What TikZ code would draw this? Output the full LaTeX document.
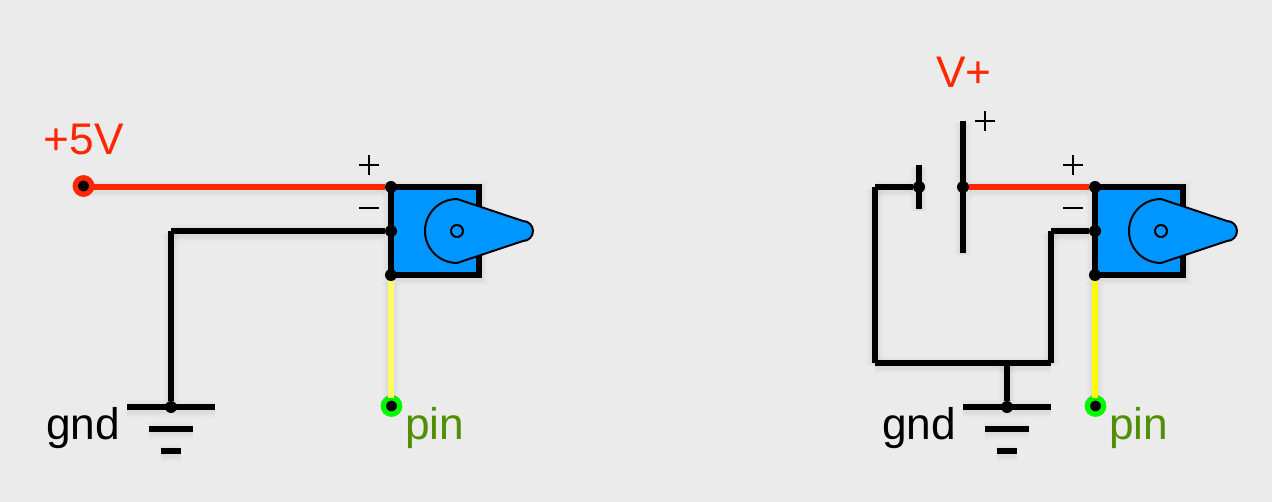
\documentclass[tikz,border=0pt]{standalone}
\usepackage{fontspec}
\setmainfont{Liberation Sans}
\definecolor{bgc}{HTML}{EBEBEB}
\definecolor{wred}{HTML}{FF2600}
\definecolor{wblue}{HTML}{0096FF}
\definecolor{wgreen}{HTML}{00F900}
\definecolor{wyellow}{HTML}{FFFB00}
\definecolor{paleyellow}{HTML}{FFFC66}
\definecolor{pingreen}{HTML}{4F8F00}
\tikzset{
  soft/.style={preaction={draw=black,draw opacity=.012,fill opacity=0,line width=#1,transform canvas={yshift=-1.5pt}}},
  softshadow/.style={soft=13pt,soft=11pt,soft=9pt,soft=7.5pt,soft=6pt},
  wire/.style={softshadow,line width=4.5pt,line cap=butt,black},
  redwire/.style={wire,wred},
  yellowwire/.style={wire,wyellow},
  paleyellowwire/.style={wire,paleyellow},
  junction/.style={circle,fill=black,draw=none,minimum size=9pt,inner sep=0pt,outer sep=0pt},
  terminal/.style={circle,fill=black,line width=4pt,minimum size=12.3pt,inner sep=0pt,outer sep=0pt},
  label/.style={anchor=base west,inner sep=0pt,font=\fontsize{33.2pt}{36pt}\selectfont},
  thin mark/.style={line width=1.5pt,black},
  horn/.style={draw=black,line width=1.5pt,fill=wblue},
  servobody/.style={softshadow,draw=black,line width=4.5pt,fill=wblue,line join=miter},
}
\newcommand{\servo}[1]{%
  \begin{scope}[shift={(#1,0)}]
    \draw[servobody] (391,187) rectangle (479,275);
    \draw[horn] (457,199) arc[start angle=-90,end angle=-270,radius=32] -- (523,241)
       arc[start angle=90,end angle=-90,radius=10] -- cycle;
    \draw[horn] (457,231) circle[radius=6];
  \end{scope}}
\newcommand{\groundsym}[1]{%
  \begin{scope}[shift={(#1,0)}]
    \draw[wire] (127,407) -- (215,407);
    \draw[wire] (149,429) -- (193,429);
    \draw[wire] (161,451) -- (181,451);
  \end{scope}}
\newcommand{\plusmark}[2]{\draw[thin mark] (#1-10,#2) -- (#1+10,#2) (#1,#2-10) -- (#1,#2+10);}
\newcommand{\minusmark}[2]{\draw[thin mark] (#1-10,#2) -- (#1+10,#2);}
\begin{document}
\begin{tikzpicture}[x=0.75pt,y=-0.75pt]
\fill[bgc] (0,0) rectangle (1272,502);
\useasboundingbox (0,0) rectangle (1272,502);
% left circuit
\servo{0}
\coordinate (lcorner) at (171,231);
\groundsym{0}
\node[junction] (lplus) at (391,187) {};
\node[junction] (lminus) at (391,231) {};
\node[junction] (lsig) at (391,275) {};
\node[terminal,draw=wred] (lvcc) at (83.5,186) {};
\node[terminal,draw=wgreen] (lpin) at (391.5,406) {};
\node[junction] (lgnd) at (171,407) {};
\draw[redwire] (lvcc.east |- lplus) -- (lplus);
\draw[wire] (lcorner) -- (lminus);
\draw[wire] (lcorner) -- (lgnd);
\draw[paleyellowwire] (lsig) -- (lsig |- lpin.north);
\plusmark{369}{165}
\minusmark{369}{208}
\node[label,wred] (tvcc) at (43.5,154.5) {+5V};
\node[label] (tgnd) at (46,440) {gnd};
\node[label,pingreen] (tpin) at (405,440) {pin};
% right circuit
\servo{704}
\coordinate (bnegtop) at (919,165);
\coordinate (bnegbot) at (919,209);
\coordinate (bpostop) at (963,121);
\coordinate (bposbot) at (963,253);
\coordinate (c1) at (875,187);
\coordinate (c2) at (875,363);
\coordinate (c3) at (1051,363);
\coordinate (c4) at (1051,231);
\coordinate (c5) at (1007,363);
\groundsym{836}
\draw[wire] (bnegtop) -- (bnegbot);
\draw[wire] (bpostop) -- (bposbot);
\node[junction] (rplus) at (1095,187) {};
\node[junction] (rminus) at (1095,231) {};
\node[junction] (rsig) at (1095,275) {};
\node[junction] (bneg) at (919,187) {};
\node[junction] (bpos) at (963,187) {};
\node[terminal,draw=wgreen] (rpin) at (1095.5,406) {};
\node[junction] (rgnd) at (1007,407) {};
\draw[redwire] (bpos) -- (rplus);
\draw[wire] (c1) -- (bneg);
\draw[wire] (c1) -- (c2);
\draw[wire] (c2) -- (c3);
\draw[wire] (c3) -- (c4);
\draw[wire] (c4) -- (rminus);
\draw[wire] (c5) -- (rgnd);
\draw[yellowwire] (rsig) -- (rsig |- rpin.north);
\plusmark{985}{121}
\plusmark{1073}{165}
\minusmark{1073}{208}
\node[label,wred] (tv) at (936,88) {V+};
\node[label] (tgnd2) at (882,440) {gnd};
\node[label,pingreen] (tpin2) at (1109,440) {pin};
\end{tikzpicture}
\end{document}
